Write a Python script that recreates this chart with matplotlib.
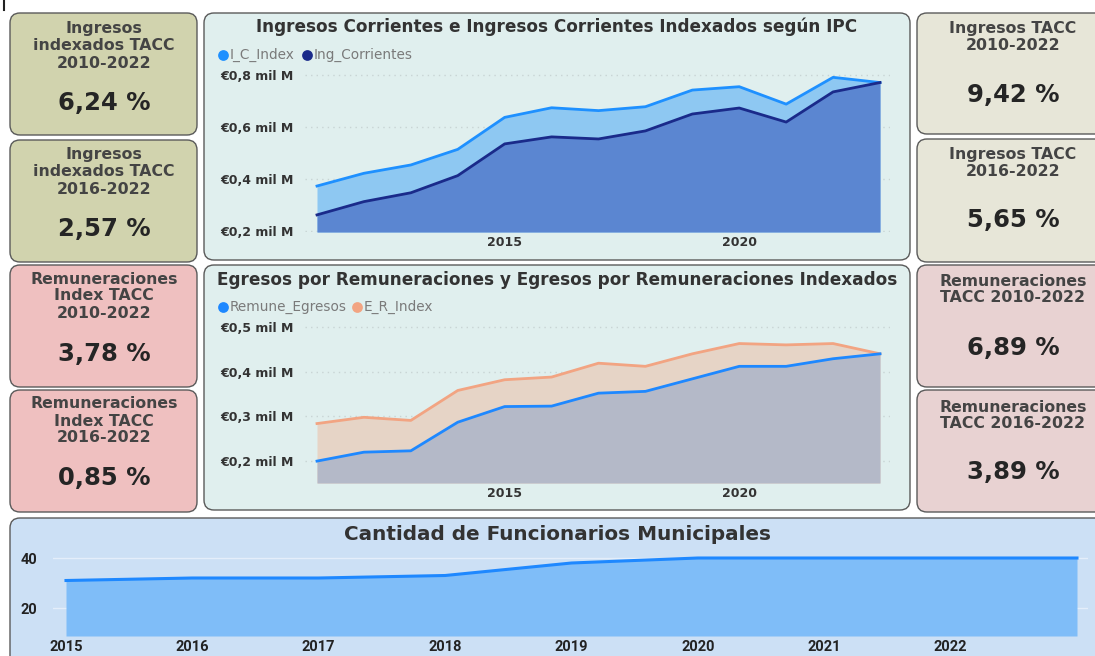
import matplotlib
matplotlib.use("Agg")
import matplotlib.pyplot as plt
from matplotlib.patches import FancyBboxPatch
import numpy as np

# ---------------- data ----------------
years = [2011, 2012, 2013, 2014, 2015, 2016, 2017, 2018, 2019, 2020, 2021, 2022, 2023]
ic_index = [0.373, 0.422, 0.454, 0.514, 0.637, 0.674, 0.663, 0.678, 0.742, 0.755, 0.688, 0.791, 0.771]
ing_corrientes = [0.262, 0.313, 0.347, 0.413, 0.535, 0.562, 0.554, 0.585, 0.650, 0.673, 0.619, 0.735, 0.771]

er_index = [0.284, 0.298, 0.291, 0.358, 0.382, 0.388, 0.419, 0.412, 0.440, 0.463, 0.460, 0.463, 0.440]
remune_egresos = [0.200, 0.220, 0.223, 0.287, 0.322, 0.323, 0.352, 0.356, 0.384, 0.412, 0.412, 0.429, 0.440]

func_years = [2015, 2016, 2017, 2018, 2019, 2020, 2021, 2022, 2023]
funcionarios = [31, 32, 32, 33, 38, 40, 40, 40, 40]
func_ticks = [2015, 2016, 2017, 2018, 2019, 2020, 2021, 2022]

top_yticks = [0.2, 0.4, 0.6, 0.8]
top_ylabels = ["€0,2 mil M", "€0,4 mil M", "€0,6 mil M", "€0,8 mil M"]
mid_yticks = [0.2, 0.3, 0.4, 0.5]
mid_ylabels = ["€0,2 mil M", "€0,3 mil M", "€0,4 mil M", "€0,5 mil M"]

left_cards = [
    (["Ingresos", "indexados TACC", "2010-2022"], "6,24 %"),
    (["Ingresos", "indexados TACC", "2016-2022"], "2,57 %"),
    (["Remuneraciones", "Index TACC", "2010-2022"], "3,78 %"),
    (["Remuneraciones", "Index TACC", "2016-2022"], "0,85 %"),
]
right_cards = [
    (["Ingresos TACC", "2010-2022"], "9,42 %"),
    (["Ingresos TACC", "2016-2022"], "5,65 %"),
    (["Remuneraciones", "TACC 2010-2022"], "6,89 %"),
    (["Remuneraciones", "TACC 2016-2022"], "3,89 %"),
]

# ---------------- figure ----------------
W, H = 1095, 656
fig = plt.figure(figsize=(W / 100, H / 100), dpi=100)
fig.patch.set_facecolor("white")

bg = fig.add_axes([0, 0, 1, 1])
bg.set_xlim(0, W)
bg.set_ylim(H, 0)
bg.axis("off")
bg.set_zorder(0)

TXT = "#333333"
CARD_TXT = "#444444"
EDGE = "#5a5a5a"
CF = "DejaVu Sans"
TF = "Roboto"


def box(x0, y0, x1, y1, fc, r=10):
    p = FancyBboxPatch((x0, y0), x1 - x0, y1 - y0,
                       boxstyle=f"round,pad=0,rounding_size={r}",
                       fc=fc, ec=EDGE, lw=1.0)
    bg.add_patch(p)


def px_axes(x0, y0, x1, y1):
    ax = fig.add_axes([x0 / W, 1 - y1 / H, (x1 - x0) / W, (y1 - y0) / H])
    ax.set_facecolor("none")
    ax.set_zorder(2)
    for s in ax.spines.values():
        s.set_visible(False)
    return ax


def card_text(cx, line_ys, lines, vy, value):
    for ly, ln in zip(line_ys, lines):
        bg.text(cx, ly, ln, ha="center", va="center", fontsize=11.3, fontweight="bold",
                color=CARD_TXT, family=CF)
    bg.text(cx, vy, value, ha="center", va="center", fontsize=17.5, fontweight="bold",
            color="#252525", family=CF)


# tiny mark at top-left
bg.plot([3.5, 3.5], [0, 10], color="#222222", lw=1.5)

# ---------------- cards ----------------
left_boxes = [(10, 13, 197, 135), (10, 140, 197, 262), (10, 265, 197, 387), (10, 390, 197, 512)]
left_colors = ["#D1D3AE", "#D1D3AE", "#EFC0C0", "#EFC0C0"]
left_line_ys = [[28, 45, 63], [155, 172, 189], [279, 296, 313], [404, 421, 438]]
left_val_y = [103, 229, 354, 478]
for b, c, lys, vy, (t, v) in zip(left_boxes, left_colors, left_line_ys, left_val_y, left_cards):
    box(*b, fc=c)
    card_text((b[0] + b[2]) / 2 + 0.5, lys, t, vy, v)

right_boxes = [(917, 13, 1105, 134), (917, 139, 1105, 262), (917, 265, 1105, 387), (917, 390, 1105, 512)]
right_colors = ["#E7E6D8", "#E7E6D8", "#E8D2D2", "#E8D2D2"]
right_line_ys = [[28, 45], [155, 172], [282, 298], [408, 424]]
right_val_y = [95, 220, 348, 472]
for b, c, lys, vy, (t, v) in zip(right_boxes, right_colors, right_line_ys, right_val_y, right_cards):
    box(*b, fc=c)
    card_text(1013, lys, t, vy, v)

# ---------------- panels ----------------
PANEL = "#E0EFEE"
box(204, 13, 910, 260, fc=PANEL)
box(204, 265, 910, 510, fc=PANEL)
box(10, 518, 1110, 680, fc="#CCE0F5")


def legend(items, y):
    for x, col, lab in items:
        bg.scatter([x], [y], s=60, color=col, zorder=3, linewidths=0)
        bg.text(x + 6.5, y, lab, ha="left", va="center", fontsize=9.8, color="#7a7a7a", family=CF)


def style_ticks(ax, size, color, pad, family, weight="bold"):
    ax.tick_params(length=0, labelsize=size, labelcolor=color, pad=pad)
    for lab in ax.get_xticklabels() + ax.get_yticklabels():
        lab.set_fontweight(weight)
        lab.set_family(family)


# ---- top chart ----
bg.text(557, 27, "Ingresos Corrientes e Ingresos Corrientes Indexados según IPC",
        ha="center", va="center", fontsize=12.2, fontweight="bold", color=TXT, family=CF)
legend([(223, "#1E90FF", "I_C_Index"), (307, "#1A2A8A", "Ing_Corrientes")], 55)

ax1 = px_axes(305, 65, 890, 232)
x0p, x1p = 317, 880
ppy = (x1p - x0p) / (years[-1] - years[0])
ax1.set_xlim(years[0] - (x0p - 305) / ppy, years[-1] + (890 - x1p) / ppy)
v_of = lambda y: 0.8 - (y - 75) * 0.2 / 52
ax1.set_ylim(v_of(232), v_of(65))
base1 = v_of(232)
ax1.fill_between(years, base1, ic_index, color="#8EC8F2", lw=0)
ax1.fill_between(years, base1, ing_corrientes, color="#5B86D1", lw=0)
ax1.plot(years, ic_index, color="#1E90FF", lw=2)
ax1.plot(years, ing_corrientes, color="#1A2A8A", lw=2)
ax1.set_yticks(top_yticks)
ax1.set_yticklabels(top_ylabels)
ax1.grid(axis="y", color="#c8d4d4", ls=(0, (1, 3)), lw=1)
ax1.set_axisbelow(True)
ax1.set_xticks([2015, 2020])
ax1.set_xticklabels(["2015", "2020"])
style_ticks(ax1, 9, TXT, 3, CF)
ax1.tick_params(axis="y", pad=8)

# ---- middle chart ----
bg.text(557, 280, "Egresos por Remuneraciones y Egresos por Remuneraciones Indexados",
        ha="center", va="center", fontsize=12.2, fontweight="bold", color=TXT, family=CF)
legend([(223, "#1E88FF", "Remune_Egresos"), (357, "#F2A482", "E_R_Index")], 307)

ax2 = px_axes(305, 318, 890, 483)
ax2.set_xlim(years[0] - (x0p - 305) / ppy, years[-1] + (890 - x1p) / ppy)
w_of = lambda y: 0.5 - (y - 327) * 0.1 / 44.7
ax2.set_ylim(w_of(483), w_of(318))
base2 = w_of(483)
ax2.fill_between(years, base2, er_index, color="#E6D4C6", lw=0)
ax2.fill_between(years, base2, remune_egresos, color="#B4B9C8", lw=0)
ax2.plot(years, er_index, color="#F2A482", lw=2)
ax2.plot(years, remune_egresos, color="#1E88FF", lw=2)
ax2.set_yticks(mid_yticks)
ax2.set_yticklabels(mid_ylabels)
ax2.grid(axis="y", color="#c8d4d4", ls=(0, (1, 3)), lw=1)
ax2.set_axisbelow(True)
ax2.set_xticks([2015, 2020])
ax2.set_xticklabels(["2015", "2020"])
style_ticks(ax2, 9, TXT, 3, CF)
ax2.tick_params(axis="y", pad=8)

# ---- bottom chart ----
bg.text(558, 535, "Cantidad de Funcionarios Municipales",
        ha="center", va="center", fontsize=14.4, fontweight="bold", color=TXT, family=CF)
ax3 = px_axes(53, 548, 1088, 636)
fx0, fx1 = 66, 1077
fppy = (fx1 - fx0) / (func_years[-1] - func_years[0])
ax3.set_xlim(func_years[0] - (fx0 - 53) / fppy, func_years[-1] + (1088 - fx1) / fppy)
f_of = lambda y: 40 - (y - 558) / 2.5
ax3.set_ylim(f_of(636), f_of(548))
ax3.fill_between(func_years, f_of(636), funcionarios, color="#7FBDF8", lw=0)
ax3.plot(func_years, funcionarios, color="#1E88FF", lw=2.2)
ax3.set_yticks([20, 40])
ax3.grid(axis="y", color="#e4eefa", lw=1)
ax3.set_axisbelow(True)
ax3.set_xticks(func_ticks)
ax3.set_xticklabels([str(t) for t in func_ticks])
style_ticks(ax3, 10.5, "#222222", 3, TF)
ax3.tick_params(axis="y", pad=11)

fig.savefig("out.png", dpi=100, facecolor="white")
